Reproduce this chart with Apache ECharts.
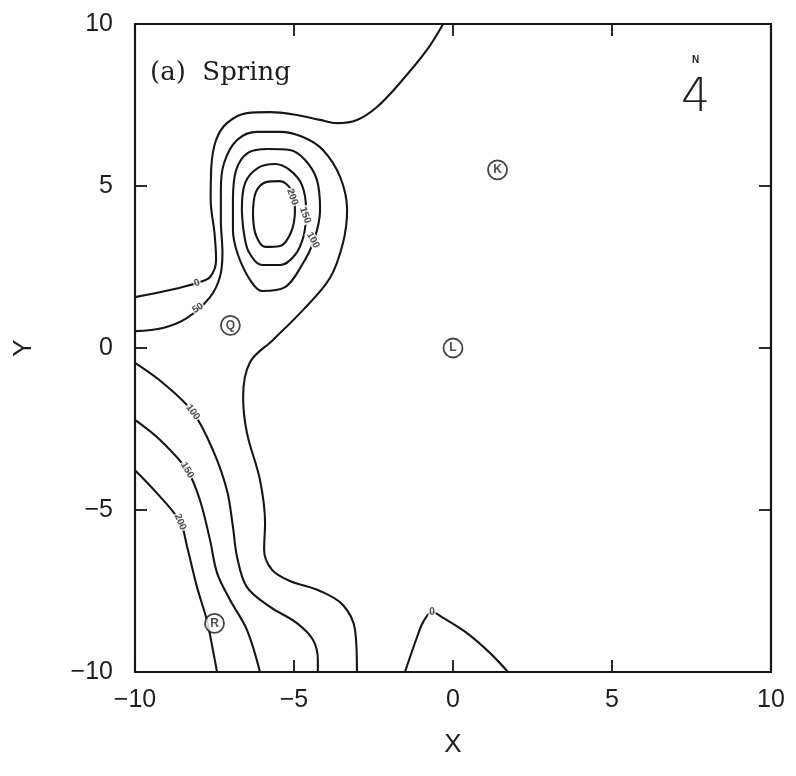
<!DOCTYPE html>
<html>
<head>
<meta charset="utf-8">
<title>(a) Spring</title>
<script src="https://cdn.jsdelivr.net/npm/echarts@6/dist/echarts.min.js"></script>
<style>
  html, body { margin: 0; padding: 0; background: #fff; }
  #chart { width: 796px; height: 776px; }
</style>
</head>
<body>
<div id="chart"></div>
<script>
// Isolíneas (coordenadas X, Y en km)
const contour0Top = [[-0.31, 10], [-0.82, 9.20], [-1.67, 8.18], [-2.39, 7.44], [-3.02, 7.04], [-3.65, 6.94],
    [-4.18, 7.04], [-4.91, 7.19], [-5.75, 7.28], [-6.48, 7.25], [-7.11, 6.94], [-7.45, 6.42], [-7.60, 5.59],
    [-7.62, 4.57], [-7.50, 3.55], [-7.45, 2.72], [-7.64, 2.19], [-8.05, 2.01], [-8.90, 1.79], [-10, 1.57]];
const contour0Bottom = [[-1.51, -10], [-1.13, -8.92], [-0.94, -8.46], [-0.66, -8.15], [-0.31, -8.33],
    [0.44, -8.80], [1.16, -9.41], [1.73, -10]];
const contour50 = [[-10, 0.52], [-9.12, 0.62], [-8.36, 0.93], [-7.64, 1.57], [-7.33, 2.19], [-7.25, 2.93],
    [-7.30, 3.95], [-7.30, 4.88], [-7.20, 5.71], [-6.79, 6.42], [-6.16, 6.67], [-5.44, 6.67], [-4.72, 6.51],
    [-4.09, 6.11], [-3.55, 5.28], [-3.33, 4.26], [-3.46, 3.24], [-3.87, 2.16], [-4.72, 1.17], [-5.66, 0.25],
    [-6.38, -0.43], [-6.60, -1.51], [-6.48, -2.62], [-6.07, -4.07], [-5.91, -5.40], [-5.94, -6.23],
    [-5.69, -6.85], [-5.13, -7.19], [-4.18, -7.50], [-3.46, -7.93], [-3.08, -8.70], [-3.02, -10]];
const contour100Loop = [[-6.92, 4.57], [-6.82, 5.49], [-6.45, 6.02], [-5.82, 6.14], [-5.13, 6.11], [-4.65, 5.80],
    [-4.28, 5.19], [-4.18, 4.26], [-4.37, 3.33], [-4.75, 2.56], [-5.28, 1.88], [-6.01, 1.76], [-6.38, 2.10],
    [-6.76, 2.87], [-6.92, 3.64], [-6.92, 4.57]];
const contour150Loop = [[-6.64, 4.26], [-6.54, 5.09], [-6.13, 5.56], [-5.60, 5.68], [-5.13, 5.49], [-4.75, 5.03],
    [-4.62, 4.26], [-4.69, 3.49], [-4.97, 2.87], [-5.44, 2.56], [-6.01, 2.56], [-6.42, 2.96], [-6.58, 3.58],
    [-6.64, 4.26]];
const contour200Loop = [[-6.29, 4.10], [-6.20, 4.81], [-5.88, 5.12], [-5.44, 5.15], [-5.09, 4.88], [-4.97, 4.26],
    [-5.09, 3.58], [-5.44, 3.15], [-5.91, 3.12], [-6.20, 3.49], [-6.29, 4.10]];
const contour100 = [[-10, -0.46], [-9.12, -1.08], [-8.18, -1.98], [-7.55, -3.15], [-7.11, -4.38], [-6.92, -5.52],
    [-6.79, -6.45], [-6.48, -7.38], [-5.75, -7.99], [-4.91, -8.49], [-4.40, -9.01], [-4.25, -9.63], [-4.25, -10]];
const contour150 = [[-10, -2.22], [-9.21, -2.84], [-8.36, -3.77], [-7.96, -4.69], [-7.64, -5.93], [-7.42, -6.94],
    [-7.01, -7.78], [-6.48, -8.70], [-6.07, -10]];
const contour200 = [[-10, -3.77], [-9.31, -4.48], [-8.58, -5.37], [-8.36, -6.14], [-8.05, -7.38], [-7.74, -8.40],
    [-7.55, -9.32], [-7.42, -10]];

// Etiquetas de las isolíneas: [x, y, valor]
const contourLabels = [[-8.05, 2.01, '0'], [-8.02, 1.23, '50'], [-5.05, 4.66, '200'], [-4.65, 4.10, '150'],
    [-4.40, 3.33, '100'], [-8.18, -1.98, '100'], [-8.36, -3.77, '150'], [-8.58, -5.37, '200'], [-0.66, -8.15, '0']];

// Estaciones: [nombre, x, y]
const stations = [['K', 1.4, 5.5], ['L', 0, 0], ['Q', -7.0, 0.7], ['R', -7.5, -8.5]];

// Ticks de los ejes
const axisMin = -10;
const axisMax = 10;
const axisStep = 5;

// Rotación de cada etiqueta (grados), mismo orden que contourLabels
const labelAngles = [20, 35, -70, -70, -60, -53, -60, -68, 0];

const LINE = '#161616';
const chart = echarts.init(document.getElementById('chart'), null, { renderer: 'canvas' });

function fmtTick(v) {
    return v < 0 ? '\u2212' + (-v) : String(v);
}

function contourSeries(name, data) {
    return {
        name: name,
        type: 'line',
        data: data,
        smooth: 0.35,
        showSymbol: false,
        symbol: 'none',
        lineStyle: { color: LINE, width: 2.1 },
        z: 2,
        silent: true
    };
}

function baseAxis(position, showLabels) {
    return {
        type: 'value',
        position: position,
        min: axisMin,
        max: axisMax,
        interval: axisStep,
        axisLine: { show: true, onZero: false, lineStyle: { color: LINE, width: 2.2 } },
        axisTick: { show: true, inside: true, length: 12, lineStyle: { color: LINE, width: 1.8 } },
        splitLine: { show: false },
        axisLabel: {
            show: showLabels,
            color: '#1e1e1e',
            fontFamily: 'Liberation Sans',
            fontSize: 25,
            formatter: fmtTick
        }
    };
}

const xBottom = Object.assign(baseAxis('bottom', true), {
    name: 'X',
    nameLocation: 'middle',
    nameGap: 60,
    nameTextStyle: { color: '#1e1e1e', fontFamily: 'Liberation Sans', fontSize: 26 }
});
xBottom.axisLabel.margin = 16;
const xTop = baseAxis('top', false);

const yLeft = Object.assign(baseAxis('left', true), {
    name: 'Y',
    nameLocation: 'middle',
    nameGap: 98,
    nameRotate: 90,
    nameTextStyle: { color: '#1e1e1e', fontFamily: 'Liberation Sans', fontSize: 26 }
});
yLeft.axisLabel.margin = 22;
const yRight = baseAxis('right', false);

const option = {
    animation: false,
    backgroundColor: '#fff',
    grid: { left: 135, right: 25, top: 24, bottom: 104, containLabel: false, outerBoundsMode: 'none' },
    xAxis: [xBottom, xTop],
    yAxis: [yLeft, yRight],
    graphic: [
        {
            type: 'text', left: 150, top: 60,
            style: { text: '(a)  Spring', font: '26px "DejaVu Serif"', fill: '#1e1e1e' }
        },
        {
            type: 'text', left: 692, top: 55,
            style: { text: 'N', font: 'bold 10px "Liberation Sans"', fill: '#1e1e1e' }
        },
        {
            type: 'text', left: 681, top: 76,
            style: { text: '4', font: '300 46px "DejaVu Sans"', fill: '#1e1e1e' }
        }
    ],
    series: [
        contourSeries('0', contour0Top),
        contourSeries('0b', contour0Bottom),
        contourSeries('50', contour50),
        contourSeries('100a', contour100Loop),
        contourSeries('150a', contour150Loop),
        contourSeries('200a', contour200Loop),
        contourSeries('100', contour100),
        contourSeries('150', contour150),
        contourSeries('200', contour200),
        {
            // Etiquetas sobre las isolíneas
            name: 'etiquetas',
            type: 'scatter',
            symbolSize: 0,
            silent: true,
            z: 4,
            data: contourLabels.map((d, i) => ({
                value: [d[0], d[1]],
                label: {
                    show: true,
                    position: 'inside',
                    formatter: d[2],
                    rotate: labelAngles[i],
                    fontSize: 10,
                    fontWeight: 'bold',
                    fontFamily: 'Liberation Sans',
                    color: '#222',
                    backgroundColor: '#fff',
                    padding: [0, 1]
                }
            }))
        },
        {
            // Estaciones marcadas con círculo
            name: 'estaciones',
            type: 'scatter',
            symbol: 'circle',
            symbolSize: 19,
            silent: true,
            z: 5,
            itemStyle: { color: '#fff', borderColor: LINE, borderWidth: 1.8 },
            label: {
                show: true,
                position: 'inside',
                formatter: p => p.data.name,
                fontSize: 12,
                fontWeight: 'bold',
                fontFamily: 'Liberation Sans',
                color: '#222'
            },
            data: stations.map(s => ({ name: s[0], value: [s[1], s[2]] }))
        }
    ]
};

chart.setOption(option);
</script>
</body>
</html>
